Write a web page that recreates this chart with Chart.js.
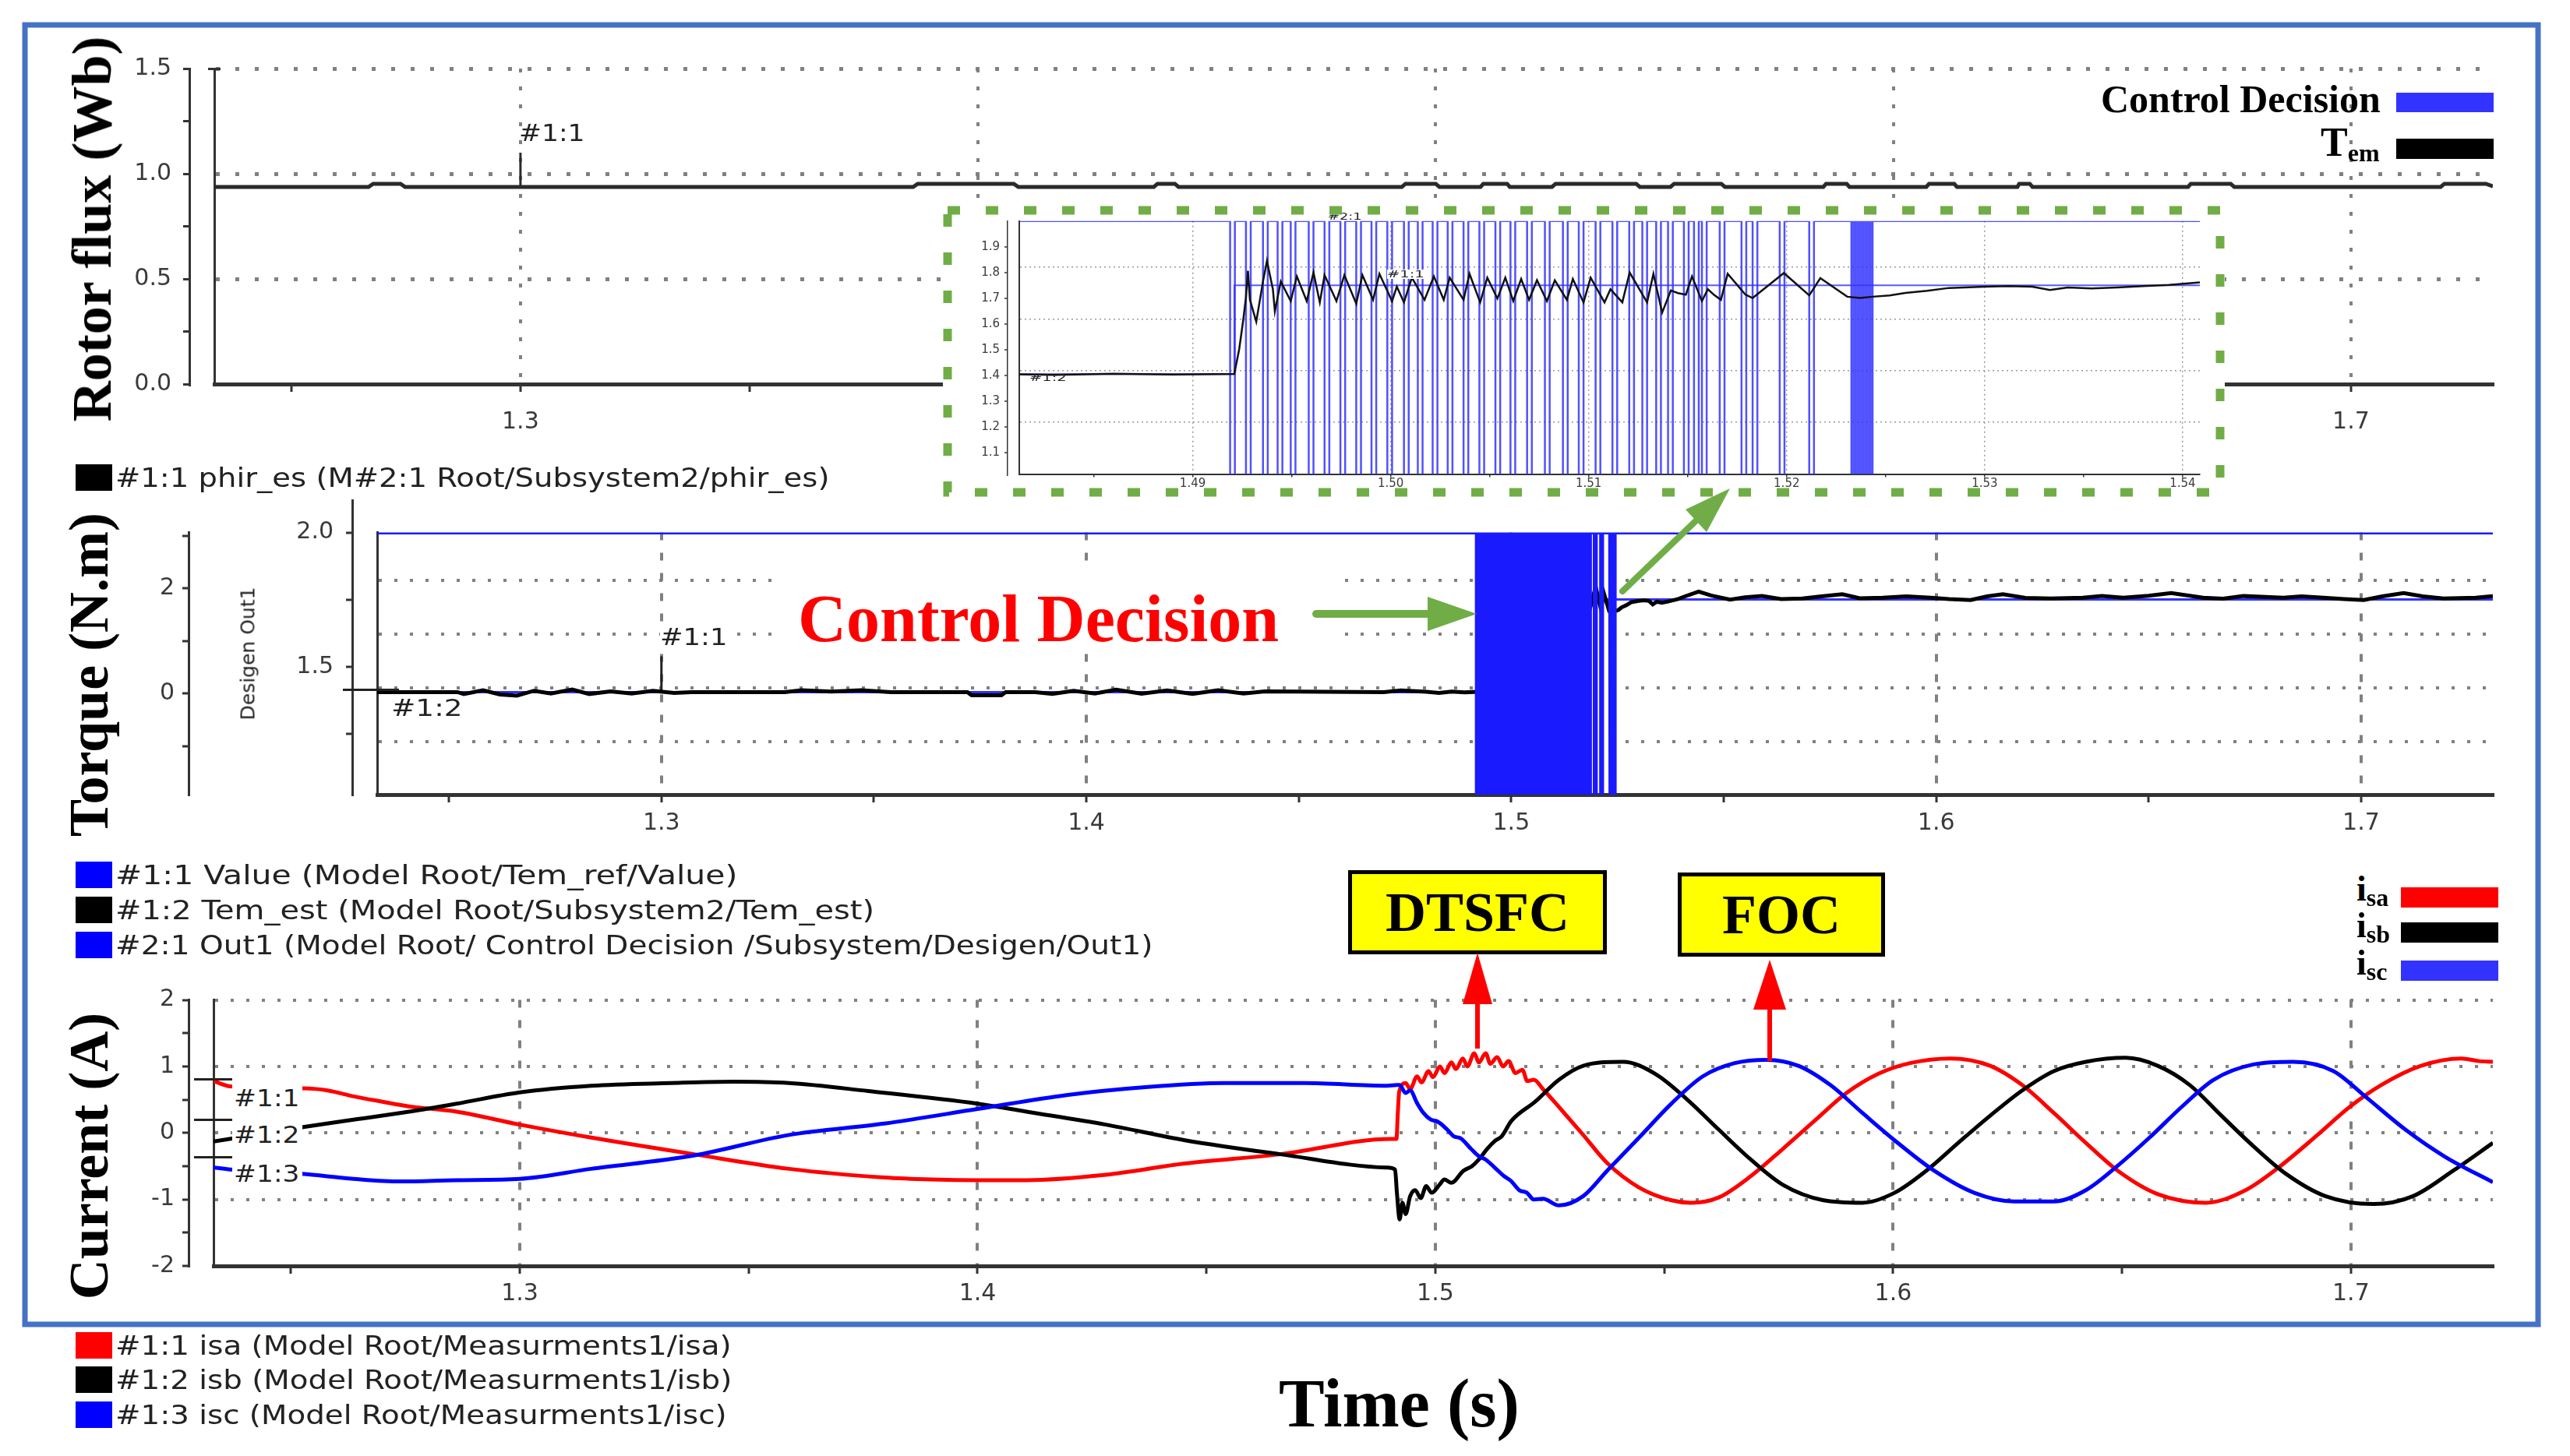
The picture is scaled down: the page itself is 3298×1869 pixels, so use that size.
<!DOCTYPE html>
<html>
<head>
<meta charset="utf-8">
<title>Rotor flux, torque and stator currents</title>
<script src="https://cdn.jsdelivr.net/npm/chart.js@4.4.1/dist/chart.umd.min.js"></script>
<style>
 html, body { margin: 0; padding: 0; background: #fff; }
 #fig { position: relative; width: 3298px; height: 1869px; overflow: hidden; background: #fff; }
 #fig canvas { position: absolute; }
 .t { position: absolute; white-space: nowrap; line-height: 1; }
 .serif { font-family: "Liberation Serif", "Times New Roman", serif; font-weight: bold; color: #000; }
 .sans { font-family: "DejaVu Sans", sans-serif; color: #222; }
 .vert { transform: translate(-50%, -50%) rotate(-90deg); }
 .blk { position: absolute; }
 .tag { position: absolute; background: #ffff00; border: 5px solid #000; box-sizing: border-box;
        display: flex; align-items: center; justify-content: center; }
</style>
</head>
<body>
<div id="fig">
 <canvas id="top" width="3115" height="532" style="left:100px;top:48px"></canvas>
 <canvas id="mid" width="3115" height="449" style="left:100px;top:641px"></canvas>
 <canvas id="bot" width="3115" height="440" style="left:100px;top:1250px"></canvas>
 <canvas id="zoom" width="1645" height="374" style="left:1210px;top:264px;background:#fff"></canvas>
</div>
<script>
// time axis (s)
const X_MIN = 1.2331, X_MAX = 1.731;
const X_TICKS = [1.25, 1.3, 1.35, 1.4, 1.45, 1.5, 1.55, 1.6, 1.65, 1.7];
const X_LABELS = [1.3, 1.4, 1.5, 1.6, 1.7];

// zoom window
const Z_MIN = 1.48124, Z_MAX = 1.54087;
const Z_TICKS = [1.485, 1.49, 1.495, 1.5, 1.505, 1.51, 1.515, 1.52, 1.525, 1.53, 1.535, 1.54];
const Z_LABELS = [1.49, 1.5, 1.51, 1.52, 1.53, 1.54];
const ZY_MIN = 1.017, ZY_MAX = 2.0;
const ZY_TICKS = [1.1, 1.2, 1.3, 1.4, 1.5, 1.6, 1.7, 1.8, 1.9];

// rotor flux
const FLUX_TICKS = [0, 0.25, 0.5, 0.75, 1, 1.25, 1.5];
const FLUX_LABELS = [0, 0.5, 1, 1.5];
const FLUX_GRID = [0.5, 1, 1.5];

// torque / control decision
const TQ_MIN = 1.023, TQ_MAX = 2.0;
const TQ_GRID = [1.22, 1.42, 1.62, 1.82];
const OUT_TICKS = [1.25, 1.5, 1.75, 2.0];
const OUT_LABELS = [1.5, 2.0];
const TEM_MIN = -1.923, TEM_MAX = 3.061;
const TEM_TICKS = [-1, 0, 1, 2, 3];
const TEM_LABELS = [0, 2];

// currents
const CUR_TICKS = [-2, -1.5, -1, -0.5, 0, 0.5, 1, 1.5, 2];
const CUR_LABELS = [-2, -1, 0, 1, 2];
const CUR_GRID = [-1, 0, 1, 2];

const FLUX = [[1.2331,0.937],[1.2668,0.937],[1.2678,0.952],[1.2738,0.952],[1.2748,0.937],[1.3858,0.937],
 [1.3868,0.952],[1.4078,0.952],[1.4088,0.937],[1.4384,0.937],[1.4392,0.952],[1.443,0.952],[1.4438,0.937],
 [1.4926,0.937],[1.4934,0.952],[1.5,0.952],[1.5008,0.937],[1.5098,0.937],[1.5104,0.952],[1.5156,0.952],
 [1.5162,0.937],[1.5254,0.937],[1.5262,0.952],[1.5438,0.952],[1.5446,0.937],[1.5513,0.937],[1.5521,0.952],
 [1.5624,0.952],[1.5632,0.937],[1.5847,0.937],[1.5853,0.952],[1.5898,0.952],[1.5904,0.937],[1.6072,0.937],
 [1.6078,0.952],[1.6133,0.952],[1.6139,0.937],[1.6271,0.937],[1.6275,0.952],[1.6298,0.952],[1.6304,0.937],
 [1.6644,0.937],[1.665,0.952],[1.6737,0.952],[1.6745,0.937],[1.7196,0.937],[1.7204,0.952],[1.7295,0.952],[1.731,0.94]];
const FLUX_MARK = [[1.3,0.937],[1.3,1.1]];

const TORQUE = [[1.2331,1.405],[1.252,1.405],[1.2535,1.398],[1.258,1.412],[1.262,1.396],[1.266,1.392],[1.27,1.41],
 [1.274,1.4],[1.279,1.415],[1.283,1.398],[1.288,1.408],[1.293,1.4],[1.298,1.41],[1.303,1.402],[1.307,1.405],
 [1.329,1.405],[1.333,1.412],[1.34,1.407],[1.347,1.412],[1.354,1.405],[1.372,1.405],[1.373,1.393],[1.38,1.393],
 [1.381,1.405],[1.388,1.405],[1.392,1.398],[1.397,1.41],[1.402,1.4],[1.407,1.414],[1.413,1.399],[1.419,1.411],
 [1.425,1.398],[1.431,1.412],[1.437,1.4],[1.442,1.408],[1.47,1.405],[1.474,1.411],[1.48,1.406],[1.483,1.402],
 [1.486,1.407],[1.489,1.404],[1.4921,1.406],
 [1.49235,1.503],[1.49255,1.614],[1.49269,1.704],[1.49279,1.807],[1.49289,1.694],[1.49321,1.609],[1.49355,1.765],
 [1.49375,1.845],[1.49405,1.735],[1.49415,1.649],[1.49445,1.765],[1.49495,1.689],[1.49526,1.785],[1.49576,1.689],
 [1.4961,1.8],[1.49642,1.684],[1.49666,1.79],[1.49726,1.689],[1.49766,1.79],[1.49826,1.679],[1.49857,1.79],
 [1.49911,1.694],[1.49943,1.795],[1.50007,1.689],[1.50031,1.745],[1.50067,1.684],[1.50107,1.78],[1.50171,1.694],
 [1.50218,1.785],[1.50268,1.694],[1.50298,1.78],[1.50368,1.694],[1.50398,1.795],[1.50452,1.684],[1.50488,1.78],
 [1.50539,1.699],[1.50579,1.78],[1.50619,1.689],[1.50659,1.775],[1.50699,1.694],[1.50739,1.77],[1.50789,1.689],
 [1.50829,1.77],[1.5089,1.694],[1.5092,1.775],[1.50974,1.684],[1.5101,1.78],[1.5108,1.684],[1.5111,1.735],
 [1.5117,1.684],[1.51207,1.8],[1.51295,1.684],[1.51327,1.795],[1.51371,1.644],[1.51415,1.73],[1.51451,1.72],
 [1.51491,1.714],[1.51522,1.785],[1.51572,1.689],[1.51602,1.735],[1.51632,1.714],[1.51668,1.694],[1.51702,1.795],
 [1.51792,1.714],[1.51828,1.701],[1.51986,1.798],[1.52114,1.711],[1.5217,1.778],[1.52306,1.706],[1.5237,1.701],
 [1.52434,1.706],
 [1.5252,1.711],[1.526,1.721],[1.5271,1.729],[1.5282,1.74],[1.53,1.745],[1.5312,1.747],[1.5324,1.745],[1.5333,1.732],
 [1.5342,1.742],[1.5354,1.738],[1.5367,1.742],[1.538,1.747],[1.5393,1.752],[1.5409,1.762],[1.5441,1.78],[1.547,1.765],
 [1.5515,1.75],[1.555,1.758],[1.559,1.763],[1.5635,1.752],[1.5685,1.754],[1.573,1.762],[1.5779,1.77],[1.582,1.755],
 [1.5874,1.757],[1.593,1.762],[1.5987,1.757],[1.603,1.752],[1.6081,1.748],[1.612,1.762],[1.6157,1.77],[1.621,1.756],
 [1.627,1.754],[1.6345,1.757],[1.639,1.763],[1.644,1.757],[1.65,1.764],[1.6553,1.774],[1.6628,1.757],[1.6675,1.753],
 [1.6723,1.763],[1.6817,1.757],[1.686,1.762],[1.6911,1.757],[1.696,1.752],[1.7006,1.748],[1.705,1.762],[1.71,1.774],
 [1.7145,1.762],[1.7194,1.754],[1.727,1.757],[1.731,1.763]];
const TORQUE_REF = [[1.2331,1.405],[1.4921,1.405],[1.4921,1.75],[1.731,1.75]];
const TORQUE_MARK = [[1.3,1.41],[1.3,1.538]];

// control decision: level 2 / level 1, with the low pulses (start, end)
const DEC_HIGH = 2.0, DEC_LOW = 1.0;
const PULSES = [[1.49189,1.49213],[1.49269,1.49293],[1.49355,1.49379],[1.49429,1.49453],[1.49495,1.49519],
 [1.49586,1.4961],[1.49666,1.4969],[1.49746,1.4977],[1.49826,1.4985],[1.49903,1.49927],[1.49983,1.50007],
 [1.50067,1.50091],[1.50137,1.50161],[1.50212,1.50236],[1.50288,1.50312],[1.50368,1.50392],[1.50448,1.50472],
 [1.50529,1.50553],[1.50605,1.50629],[1.50689,1.50713],[1.50779,1.50803],[1.5087,1.50894],[1.5095,1.50974],
 [1.51035,1.51059],[1.5112,1.51144],[1.51205,1.51229],[1.51271,1.51295],[1.51341,1.51365],[1.51401,1.51425],
 [1.51481,1.51505],[1.51532,1.51556],[1.51572,1.51596],[1.51662,1.51686],[1.51772,1.51796],[1.51828,1.51852],
 [1.51965,1.51989],[1.52114,1.52138],[1.52327,1.52337],[1.52347,1.52357],[1.52367,1.52377],[1.52387,1.52397],
 [1.52407,1.52417],[1.52424,1.52434]];

const ISA = [[1.2331,0.78],[1.2368,0.7],[1.2524,0.67],[1.258,0.64],[1.2637,0.55],[1.27,0.47],[1.2758,0.4],
 [1.2862,0.32],[1.3,0.125],[1.3156,-0.07],[1.338,-0.32],[1.3588,-0.54],[1.3796,-0.67],[1.39,-0.7],[1.4,-0.71],
 [1.4107,-0.71],[1.428,-0.63],[1.4453,-0.46],[1.4661,-0.32],[1.4903,-0.09],[1.4915,-0.09],[1.4918,0.3],
 [1.4921,0.62],[1.4935,0.75],[1.4945,0.66],[1.496,0.85],[1.497,0.76],[1.4985,0.93],[1.4995,0.84],[1.501,1.0],
 [1.502,0.9],[1.5035,1.06],[1.5045,0.96],[1.506,1.12],[1.507,1.0],[1.5085,1.2],[1.5095,1.06],[1.511,1.2],
 [1.512,1.04],[1.5135,1.14],[1.5148,1.0],[1.516,1.08],[1.5175,0.9],[1.519,0.95],[1.5201,0.78],[1.5215,0.8],
 [1.5235,0.66],[1.527,0.39],[1.5323,-0.03],[1.5375,-0.45],[1.5445,-0.82],[1.5514,-1.01],[1.5558,-1.05],
 [1.5619,-0.97],[1.5689,-0.65],[1.5759,-0.24],[1.5828,0.18],[1.5898,0.6],[1.5968,0.89],[1.6037,1.05],
 [1.6125,1.12],[1.6212,1.01],[1.6282,0.72],[1.6351,0.3],[1.6421,-0.15],[1.6491,-0.57],[1.6578,-0.92],
 [1.6683,-1.05],[1.677,-0.86],[1.684,-0.53],[1.6927,-0.03],[1.6997,0.39],[1.7066,0.72],[1.7153,1.01],
 [1.7241,1.12],[1.728,1.08],[1.731,1.07]];
const ISB = [[1.2331,-0.13],[1.2524,0.085],[1.2637,0.2],[1.2758,0.32],[1.2862,0.44],[1.3,0.61],[1.3156,0.71],
 [1.3329,0.75],[1.3467,0.77],[1.3588,0.75],[1.3761,0.63],[1.4,0.44],[1.4107,0.32],[1.428,0.125],[1.4453,-0.11],
 [1.4661,-0.32],[1.4894,-0.52],[1.4912,-0.55],[1.4916,-0.9],[1.4922,-1.3],[1.4928,-1.05],[1.4935,-1.22],
 [1.4945,-0.95],[1.4956,-0.86],[1.4968,-0.98],[1.498,-0.8],[1.4992,-0.9],[1.5009,-0.78],[1.502,-0.7],
 [1.5035,-0.75],[1.5061,-0.57],[1.508,-0.5],[1.5095,-0.4],[1.5113,-0.24],[1.513,-0.12],[1.5145,-0.05],
 [1.5166,0.18],[1.5218,0.47],[1.527,0.8],[1.5323,1.01],[1.541,1.07],[1.548,0.89],[1.5549,0.51],[1.5619,0.05],
 [1.5689,-0.4],[1.5759,-0.78],[1.5846,-1.01],[1.5933,-1.05],[1.6003,-0.9],[1.6072,-0.57],[1.6142,-0.15],
 [1.6212,0.26],[1.6282,0.64],[1.6351,0.93],[1.6421,1.07],[1.6508,1.13],[1.6578,1.01],[1.6648,0.72],
 [1.6717,0.26],[1.6787,-0.2],[1.6857,-0.61],[1.6944,-0.95],[1.7049,-1.07],[1.7136,-0.95],[1.7223,-0.57],
 [1.731,-0.15]];
const ISC = [[1.2331,-0.52],[1.2368,-0.55],[1.2524,-0.615],[1.2637,-0.69],[1.274,-0.73],[1.2862,-0.71],
 [1.3,-0.69],[1.3156,-0.54],[1.338,-0.34],[1.3588,-0.03],[1.3796,0.14],[1.4,0.36],[1.4194,0.57],[1.4367,0.69],
 [1.454,0.75],[1.4713,0.75],[1.4894,0.71],[1.4916,0.72],[1.4922,0.72],[1.4935,0.6],[1.4945,0.64],[1.496,0.45],
 [1.4974,0.3],[1.499,0.2],[1.5005,0.17],[1.5026,0.05],[1.504,-0.05],[1.5055,-0.08],[1.5078,-0.24],[1.5095,-0.35],
 [1.511,-0.4],[1.5131,-0.53],[1.515,-0.65],[1.5165,-0.72],[1.5183,-0.86],[1.52,-0.9],[1.5215,-1.0],
 [1.5235,-0.99],[1.527,-1.09],[1.5323,-0.95],[1.5375,-0.57],[1.5445,-0.07],[1.5514,0.43],[1.5584,0.85],
 [1.5654,1.05],[1.5724,1.1],[1.5793,1.01],[1.5863,0.72],[1.5933,0.3],[1.6003,-0.11],[1.609,-0.57],
 [1.6177,-0.9],[1.6264,-1.03],[1.6351,-1.03],[1.6421,-0.86],[1.6491,-0.49],[1.656,-0.07],[1.663,0.39],
 [1.67,0.8],[1.6787,1.03],[1.6874,1.07],[1.6962,0.93],[1.7031,0.55],[1.7119,0.05],[1.7206,-0.36],[1.731,-0.74]];

const pts = arr => arr.map(([x, y]) => ({ x, y }));

function decisionSeries() {
 const out = [{ x: X_MIN, y: DEC_HIGH }];
 PULSES.forEach(([a, b]) => {
  out.push({ x: a, y: DEC_HIGH }, { x: a, y: DEC_LOW }, { x: b, y: DEC_LOW }, { x: b, y: DEC_HIGH });
 });
 out.push({ x: X_MAX, y: DEC_HIGH });
 return out;
}

const CLEAR = 'rgba(0,0,0,0)';
const TICK_FONT = { family: 'DejaVu Sans', size: 30 };
const SMALL_FONT = { family: 'DejaVu Sans', size: 15 };

function timeAxis(o) {
 return {
  type: 'linear', position: 'bottom', min: o.min, max: o.max,
  afterBuildTicks: s => { s.ticks = o.ticks.map(v => ({ value: v })); },
  afterFit: s => { s.height = o.height; },
  ticks: { autoSkip: false, maxRotation: 0, padding: o.pad, color: '#3a3a3a', font: o.font,
   callback: v => o.labels.includes(v) ? v.toFixed(o.dec) : '' },
  grid: { color: c => (c.tick && o.labels.includes(c.tick.value)) ? o.gridColor : CLEAR,
   lineWidth: o.gridWidth, tickLength: o.tick, tickColor: '#333', tickWidth: o.tickWidth },
  border: { color: '#333', width: o.axisWidth, dash: o.dash }
 };
}

function valueAxis(o) {
 const grid = o.grid || [];
 return {
  type: 'linear', position: 'left', weight: o.weight, min: o.min, max: o.max,
  afterBuildTicks: s => { s.ticks = o.ticks.map(v => ({ value: v })); },
  afterFit: s => { s.width = o.width; },
  ticks: { display: !!o.labels, autoSkip: false, padding: o.pad || 0, color: '#3a3a3a', font: o.font || TICK_FONT,
   callback: v => (o.labels && o.labels.includes(v)) ? v.toFixed(o.dec) : '' },
  grid: { drawOnChartArea: grid.length > 0, drawTicks: !!o.tick, tickLength: o.tick || 0,
   tickColor: '#333', tickWidth: o.tickWidth || 3, lineWidth: o.gridWidth || 4,
   color: c => (c.tick && grid.includes(c.tick.value)) ? (o.gridColor || '#808080') : CLEAR },
  border: { color: '#333', width: o.border, dash: o.dash || [] }
 };
}

// every series is drawn against the frame axis 'y'
function line(data, color, width, extra) {
 return Object.assign({ data, yAxisID: 'y', borderColor: color, borderWidth: width, pointRadius: 0, tension: 0,
  fill: false, borderCapStyle: 'butt' }, extra || {});
}

function options(padding, scales) {
 return {
  responsive: false, animation: false, events: [],
  layout: { padding },
  plugins: { legend: { display: false }, tooltip: { enabled: false } },
  elements: { point: { radius: 0 } },
  scales
 };
}

// rotor flux panel
new Chart(document.getElementById('top'), {
 type: 'line',
 data: { datasets: [
  line(pts(FLUX), '#2a2a2a', 5),
  line(pts(FLUX_MARK), '#2a2a2a', 3)
 ] },
 options: options({ top: 40, right: 16, left: 0, bottom: 0 }, {
  x: timeAxis({ min: X_MIN, max: X_MAX, ticks: X_TICKS, labels: X_LABELS, dec: 1, height: 87, pad: 21,
   font: TICK_FONT, gridColor: '#808080', gridWidth: 4, tick: 10, tickWidth: 3, axisWidth: 5, dash: [5, 18] }),
  yL: valueAxis({ weight: 1, width: 143, min: 0, max: 1.5, ticks: FLUX_TICKS, labels: FLUX_LABELS, dec: 1,
   grid: FLUX_GRID, dash: [5, 20], gridWidth: 5, tick: 8, pad: 15, border: 3 }),
  y: valueAxis({ weight: 0, width: 32, min: 0, max: 1.5, ticks: [], border: 3 })
 })
});

// torque / control decision panel
new Chart(document.getElementById('mid'), {
 type: 'line',
 data: { datasets: [
  line(decisionSeries(), '#1a1aff', 5),
  line(pts(TORQUE), '#000', 5),
  line(pts(TORQUE_REF), '#3030ff', 3),
  line(pts(TORQUE_MARK), '#222', 3)
 ] },
 options: options({ top: 42.5, right: 16, left: 0, bottom: 0 }, {
  x: timeAxis({ min: X_MIN, max: X_MAX, ticks: X_TICKS, labels: X_LABELS, dec: 1, height: 70, pad: 9,
   font: TICK_FONT, gridColor: '#808080', gridWidth: 4, tick: 10, tickWidth: 3, axisWidth: 5, dash: [10, 16] }),
  yT: valueAxis({ weight: 2, width: 142, min: TEM_MIN, max: TEM_MAX, ticks: TEM_TICKS, labels: TEM_LABELS,
   dec: 0, tick: 8, pad: 10, border: 3 }),
  yD: valueAxis({ weight: 1, width: 210, min: TQ_MIN, max: TQ_MAX, ticks: OUT_TICKS, labels: OUT_LABELS,
   dec: 1, tick: 8, pad: 16, border: 3 }),
  y: valueAxis({ weight: 0, width: 32, min: TQ_MIN, max: TQ_MAX, ticks: TQ_GRID, grid: TQ_GRID,
   dash: [4, 16], gridWidth: 4, border: 3 })
 })
});

// stator currents panel
const smooth = { cubicInterpolationMode: 'monotone' };
new Chart(document.getElementById('bot'), {
 type: 'line',
 data: { datasets: [
  line(pts(ISC), '#0000ff', 5, smooth),
  line(pts(ISB), '#000', 5, smooth),
  line(pts(ISA), '#ff0000', 5, smooth)
 ] },
 options: options({ top: 33.6, right: 16, left: 0, bottom: 0 }, {
  x: timeAxis({ min: X_MIN, max: X_MAX, ticks: X_TICKS, labels: X_LABELS, dec: 1, height: 65, pad: 8,
   font: TICK_FONT, gridColor: '#808080', gridWidth: 4, tick: 10, tickWidth: 3, axisWidth: 5, dash: [10, 16] }),
  yL: valueAxis({ weight: 1, width: 142, min: -2, max: 2, ticks: CUR_TICKS, labels: CUR_LABELS, dec: 0,
   grid: CUR_GRID, dash: [4, 16], gridWidth: 4, tick: 8, pad: 10, border: 3 }),
  y: valueAxis({ weight: 0, width: 32, min: -2, max: 2, ticks: [], border: 3 })
 })
});

// zoom of the switching interval
new Chart(document.getElementById('zoom'), {
 type: 'line',
 data: { datasets: [
  line(pts(TORQUE), '#111', 2.5),
  line(decisionSeries(), 'rgba(50,50,255,0.85)', 2.5),
  line(pts(TORQUE_REF), '#5a5aff', 2)
 ] },
 options: options({ top: 19.7, right: 32, left: 0, bottom: 0 }, {
  x: timeAxis({ min: Z_MIN, max: Z_MAX, ticks: Z_TICKS, labels: Z_LABELS, dec: 2, height: 29.4, pad: 0,
   font: SMALL_FONT, gridColor: '#9a9a9a', gridWidth: 1.5, tick: 4, tickWidth: 1.5, axisWidth: 2, dash: [2, 4] }),
  yL: valueAxis({ weight: 1, width: 83, min: ZY_MIN, max: ZY_MAX, ticks: ZY_TICKS, labels: ZY_TICKS, dec: 1,
   font: SMALL_FONT, tick: 4, tickWidth: 1.5, pad: 6, border: 1.5 }),
  y: valueAxis({ weight: 0, width: 15, min: ZY_MIN, max: ZY_MAX, ticks: TQ_GRID, grid: TQ_GRID,
   gridColor: '#9a9a9a', gridWidth: 1.5, dash: [2, 4], border: 2 })
 })
});

// ---- texts and annotations ----
const fig = document.getElementById('fig');

function text(html, x, base, size, cls, fitW, style) {
 const el = document.createElement('div');
 el.className = 't ' + cls;
 el.style.left = x + 'px';
 el.style.top = (base - 0.84 * size) + 'px';
 el.style.fontSize = size + 'px';
 el.innerHTML = html;
 if (style) Object.assign(el.style, style);
 fig.appendChild(el);
 if (fitW) {
  el.style.transformOrigin = '0 0';
  el.style.transform = 'scaleX(' + (fitW / el.offsetWidth) + ')';
 }
 return el;
}

function block(x, y, w, h, color) {
 const el = document.createElement('div');
 el.className = 'blk';
 Object.assign(el.style, { left: x + 'px', top: y + 'px', width: w + 'px', height: h + 'px', background: color });
 fig.appendChild(el);
 return el;
}

function vtitle(str, cx, cy, size, cls) {
 const el = document.createElement('div');
 el.className = 't vert ' + cls;
 Object.assign(el.style, { left: cx + 'px', top: cy + 'px', fontSize: size + 'px' });
 el.textContent = str;
 fig.appendChild(el);
}

// axis titles
vtitle('Rotor flux (Wb)', 118, 294, 72, 'serif');
vtitle('Torque (N.m)', 114, 866, 72, 'serif');
vtitle('Current (A)', 114, 1484, 72, 'serif');
vtitle('Desigen Out1', 318, 839, 25, 'sans');
text('Time (s)', 1641, 1832, 88, 'serif');

// small axis details
block(267, 87, 16, 3, '#333');          // cap on flux frame
block(450.5, 641, 3, 43, '#333');       // decision axis above 2.0
block(440, 884, 72, 3, '#222');         // torque marker
block(249, 1384, 49, 3, '#222');        // current markers
block(249, 1436, 49, 3, '#222');
block(249, 1484, 49, 3, '#222');

// signal tags inside the plots
text('#1:1', 666, 181, 30, 'sans', 84);
text('#1:1', 847, 828, 30, 'sans', 86, { background: '#fff' });
text('#1:2', 502, 919, 30, 'sans', 91);
block(298, 1382, 90, 48, '#fff');
block(298, 1430, 90, 48, '#fff');
block(298, 1479, 90, 48, '#fff');
text('#1:1', 300, 1420, 30, 'sans', 84);
text('#1:2', 300, 1467, 30, 'sans', 84);
text('#1:3', 300, 1517, 30, 'sans', 84);
text('#2:1', 1704, 282, 12, 'sans', 43);
text('#1:1', 1780, 356, 12, 'sans', 47, { background: '#fff' });
text('#1:2', 1321, 489, 12, 'sans', 47);

// legends under the panels
const LEGENDS = [
 ['#000', '#1:1 phir_es (M#2:1 Root/Subsystem2/phir_es)', 613, 917],
 ['#0000ff', '#1:1 Value (Model Root/Tem_ref/Value)', 1123, 799],
 ['#000', '#1:2 Tem_est (Model Root/Subsystem2/Tem_est)', 1168, 974],
 ['#0000ff', '#2:1 Out1 (Model Root/ Control Decision /Subsystem/Desigen/Out1)', 1213, 1332],
 ['#ff0000', '#1:1 isa (Model Root/Measurments1/isa)', 1727, 791],
 ['#000', '#1:2 isb (Model Root/Measurments1/isb)', 1771, 791],
 ['#0000ff', '#1:3 isc (Model Root/Measurments1/isc)', 1816, 785]
];
LEGENDS.forEach(([color, label, cy, w]) => {
 block(97, cy - 17, 47, 34, color);
 text(label, 148, cy + 12, 33, 'sans', w);
});

// key, top right
text('Control Decision', 2696, 143.5, 50, 'serif');
block(3075, 119, 125, 25, '#3333ff');
text('T<span style="font-size:32px;position:relative;top:7px">em</span>', 2978, 201, 52, 'serif');
block(3075, 178, 125, 26, '#000');

// key, currents
const CUR_KEY = [['sa', '#ff0000', 1157, 1139], ['sb', '#000', 1204, 1184], ['sc', '#3333ff', 1252, 1233]];
CUR_KEY.forEach(([sub, color, base, top]) => {
 text('i<span style="font-size:32px;position:relative;top:7px">' + sub + '</span>', 3024, base, 46, 'serif');
 block(3081, top, 125, 26, color);
});

// "Control Decision" callout
block(990, 735, 727, 100, '#fff');
text('Control Decision', 1024, 823, 86, 'serif', 0, { color: '#ff0000' });

// DTSFC / FOC tags
function tag(label, x, y, w, h) {
 const el = document.createElement('div');
 el.className = 'tag serif';
 Object.assign(el.style, { left: x + 'px', top: y + 'px', width: w + 'px', height: h + 'px', fontSize: '72px' });
 el.textContent = label;
 fig.appendChild(el);
}
tag('DTSFC', 1730, 1117, 332, 108);
tag('FOC', 2153, 1120, 266, 108);

// frame, zoom box and arrows
const svg = `<svg xmlns="http://www.w3.org/2000/svg" width="3298" height="1869" style="position:absolute;left:0;top:0">
 <rect x="32" y="32" width="3225" height="1668" fill="none" stroke="#4472c4" stroke-width="7"/>
 <rect x="1216" y="270" width="1633" height="362" fill="none" stroke="#70ad47" stroke-width="11" stroke-dasharray="16 33"/>
 <line x1="1689" y1="788" x2="1836" y2="788" stroke="#70ad47" stroke-width="10" stroke-linecap="round"/>
 <polygon points="1832,766 1895,788 1832,810" fill="#70ad47"/>
 <line x1="2082" y1="759" x2="2180" y2="665" stroke="#70ad47" stroke-width="8" stroke-linecap="round"/>
 <polygon points="2220,627 2190,683 2163,654" fill="#70ad47"/>
 <line x1="1896" y1="1286" x2="1896" y2="1346" stroke="#ff0000" stroke-width="6"/>
 <polygon points="1896,1223 1915,1289 1877,1289" fill="#ff0000"/>
 <line x1="2271" y1="1293" x2="2271" y2="1362" stroke="#ff0000" stroke-width="6"/>
 <polygon points="2271,1232 2292,1296 2250,1296" fill="#ff0000"/>
</svg>`;
fig.insertAdjacentHTML('beforeend', svg);
</script>
</body>
</html>
